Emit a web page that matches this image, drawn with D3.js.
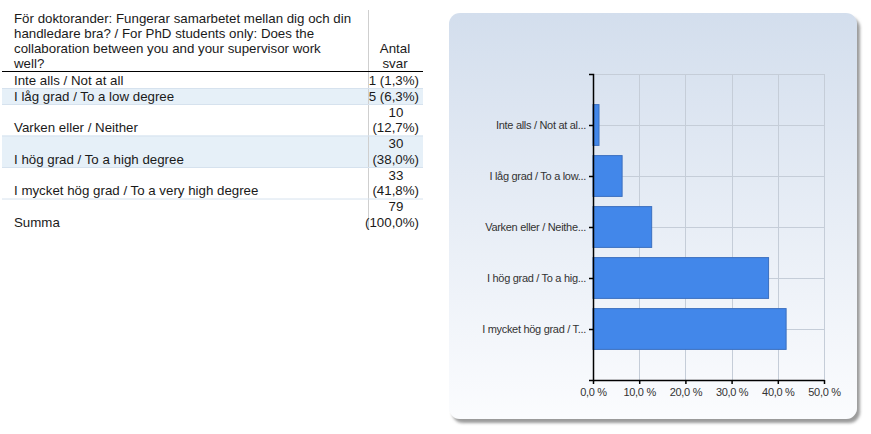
<!DOCTYPE html>
<html>
<head>
<meta charset="utf-8">
<script src="https://cdn.jsdelivr.net/npm/d3@7"></script>
<style>
  body { margin: 0; background: #fff; }
  svg { display: block; }
  .tbl text { font-family: "Liberation Sans", Arial, sans-serif; font-size: 13.3px; fill: #1a1a1a; }
  .axis text { font-family: "Liberation Sans", Arial, sans-serif; font-size: 11px; fill: #333; letter-spacing: -0.3px; }
  .axis path, .axis line { stroke: #000; }
</style>
</head>
<body>
<div id="chart"></div>
<script>
// question text (header of the table)
const questionLines = [
    "För doktorander: Fungerar samarbetet mellan dig och din",
    "handledare bra? / For PhD students only: Does the",
    "collaboration between you and your supervisor work",
    "well?"
];
const countHeader = ["Antal", "svar"];

const categories = [
    "Inte alls / Not at all",
    "I låg grad / To a low degree",
    "Varken eller / Neither",
    "I hög grad / To a high degree",
    "I mycket hög grad / To a very high degree"
];
// truncated labels as shown on the chart axis
const shortLabels = [
    "Inte alls / Not at al...",
    "I låg grad / To a low...",
    "Varken eller / Neithe...",
    "I hög grad / To a hig...",
    "I mycket hög grad / T..."
];
const counts = [1, 5, 10, 30, 33];
const percents = [1.3, 6.3, 12.7, 38.0, 41.8];
const totalLabel = "Summa";
const totalCount = 79;
const totalPercent = 100.0;
const xTicks = [0, 10, 20, 30, 40, 50];

const fmtPct = v => v.toFixed(1).replace(".", ",");

const svg = d3.select("#chart").append("svg")
    .attr("width", 871)
    .attr("height", 434);

/* ---------------- table ---------------- */
let tbl = svg.append("g").attr("class", "tbl");

const tLeft = 2, tRight = 423, colX = 368, textX = 14, numX = 419;
const lineH = 15.5;

// build rows (one line when it fits, otherwise the count wraps to two lines)
let rows = categories.map((c, i) => ({
    label: c,
    nums: counts[i] < 10 ? [counts[i] + " (" + fmtPct(percents[i]) + "%)"]
                         : [String(counts[i]), "(" + fmtPct(percents[i]) + "%)"]
}));
rows.push({ label: totalLabel, nums: [String(totalCount), "(" + fmtPct(totalPercent) + "%)"] });

let y = 72;
rows.forEach(function(r, i){
    r.y0 = y;
    r.h = r.nums.length * lineH + 0.5;
    y += r.h;
});
const tBottom = y;

// striped backgrounds
rows.forEach(function(r, i){
    if (i % 2 == 1 && i < rows.length - 1) {
        tbl.append("rect")
            .attr("x", tLeft).attr("y", r.y0)
            .attr("width", colX - tLeft).attr("height", r.h)
            .attr("fill", "#e6f0f8");
        tbl.append("rect")
            .attr("x", colX + 1).attr("y", r.y0)
            .attr("width", tRight - colX - 1).attr("height", r.h)
            .attr("fill", "#e6f0f8");
    }
});

// vertical divider
tbl.append("line")
    .attr("x1", colX + 0.5).attr("x2", colX + 0.5)
    .attr("y1", 10).attr("y2", tBottom)
    .attr("stroke", "#cfcfcf");

// row separators
rows.forEach(function(r, i){
    if (i < rows.length - 1) {
        tbl.append("line")
            .attr("x1", tLeft).attr("x2", tRight)
            .attr("y1", r.y0 + r.h + 0.5).attr("y2", r.y0 + r.h + 0.5)
            .attr("stroke", "#d6e2ee");
    }
});

// header
tbl.selectAll(".q")
    .data(questionLines)
    .enter()
    .append("text")
    .attr("x", textX)
    .attr("y", (d, i) => 23 + i * 15)
    .text(d => d);

tbl.selectAll(".h")
    .data(countHeader)
    .enter()
    .append("text")
    .attr("x", 395)
    .attr("y", (d, i) => 53 + i * 15)
    .attr("text-anchor", "middle")
    .text(d => d);

tbl.append("line")
    .attr("x1", tLeft).attr("x2", tRight)
    .attr("y1", 71.5).attr("y2", 71.5)
    .attr("stroke", "#000");

// row texts
rows.forEach(function(r){
    let base = r.y0 + r.h - 3.5;
    tbl.append("text")
        .attr("x", textX)
        .attr("y", base)
        .text(r.label);
    r.nums.forEach(function(n, j){
        tbl.append("text")
            .attr("x", n.length < 4 ? 396 : numX)
            .attr("y", base - (r.nums.length - 1 - j) * lineH)
            .attr("text-anchor", n.length < 4 ? "middle" : "end")
            .text(n);
    });
});

/* ---------------- chart panel ---------------- */
let defs = svg.append("defs");

let grad = defs.append("linearGradient")
    .attr("id", "panelGrad")
    .attr("x1", 0).attr("y1", 0).attr("x2", 0).attr("y2", 1);
grad.append("stop").attr("offset", "0%").attr("stop-color", "#d3deed");
grad.append("stop").attr("offset", "100%").attr("stop-color", "#fbfcfe");

let shadow = defs.append("filter")
    .attr("id", "shadow")
    .attr("x", "-5%").attr("y", "-5%").attr("width", "115%").attr("height", "115%");
shadow.append("feDropShadow")
    .attr("dx", 3).attr("dy", 4)
    .attr("stdDeviation", 1.8)
    .attr("flood-color", "#7a7a7a")
    .attr("flood-opacity", 0.75);

svg.append("rect")
    .attr("x", 449).attr("y", 13)
    .attr("width", 408).attr("height", 406)
    .attr("rx", 11)
    .attr("fill", "url(#panelGrad)")
    .attr("filter", "url(#shadow)");

const plot = { left: 593, right: 824, top: 74, bottom: 380 };

let xScale = d3.scaleLinear()
    .domain([0, 50])
    .range([plot.left, plot.right]);

let yScale = d3.scalePoint()
    .domain(shortLabels)
    .range([plot.top, plot.bottom])
    .padding(1);

let g = svg.append("g");

// grid
g.selectAll(".vgrid")
    .data(xTicks.slice(1))
    .enter()
    .append("line")
    .attr("x1", d => Math.round(xScale(d)) + 0.5)
    .attr("x2", d => Math.round(xScale(d)) + 0.5)
    .attr("y1", plot.top)
    .attr("y2", plot.bottom)
    .attr("stroke", "#c5cdd8");

g.selectAll(".hgrid")
    .data([plot.top].concat(shortLabels.map(d => yScale(d))))
    .enter()
    .append("line")
    .attr("x1", plot.left)
    .attr("x2", plot.right)
    .attr("y1", d => Math.round(d) + 0.5)
    .attr("y2", d => Math.round(d) + 0.5)
    .attr("stroke", "#c5cdd8");

// bars
const barH = yScale.step() * 0.8;
g.selectAll(".bar")
    .data(percents)
    .enter()
    .append("rect")
    .attr("class", "bar")
    .attr("x", plot.left)
    .attr("y", (d, i) => yScale(shortLabels[i]) - barH / 2)
    .attr("width", d => xScale(d) - plot.left)
    .attr("height", barH)
    .attr("fill", "#4287ea")
    .attr("stroke", "#3b6fbf")
    .attr("stroke-width", 1);

// axes
let yAxis = d3.axisLeft(yScale)
    .tickSize(4)
    .tickSizeOuter(4)
    .tickPadding(3);

svg.append("g")
    .attr("class", "axis y-axis")
    .attr("transform", `translate(${plot.left}, 0)`)
    .call(yAxis)
    .call(a => a.selectAll("path, line").attr("stroke-width", 1.5));

let xAxis = d3.axisBottom(xScale)
    .tickValues(xTicks)
    .tickSize(4)
    .tickSizeOuter(0)
    .tickPadding(4)
    .tickFormat(d => fmtPct(d) + " %");

svg.append("g")
    .attr("class", "axis x-axis")
    .attr("transform", `translate(0, ${plot.bottom})`)
    .call(xAxis)
    .call(a => a.selectAll("path, line").attr("stroke-width", 1.5));
</script>
</body>
</html>
